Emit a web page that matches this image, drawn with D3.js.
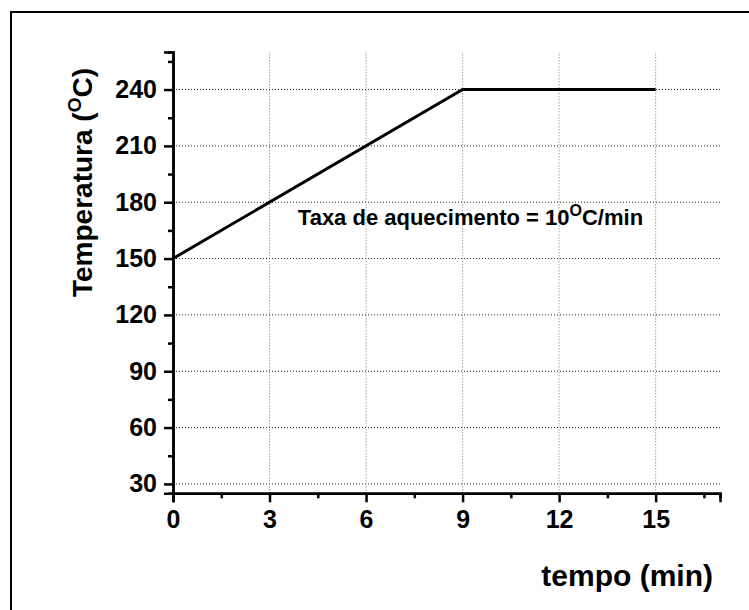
<!DOCTYPE html>
<html>
<head>
<meta charset="utf-8">
<script src="https://cdn.jsdelivr.net/npm/d3@7"></script>
<style>
	body { margin: 0; background: #fff; }
	svg { display: block; font-family: "Liberation Sans", Arial, sans-serif; font-weight: bold; }
</style>
</head>
<body>
<div id="my_chart"></div>
<script>
// dados
var tempo = [0, 9, 15];
var temperatura = [150, 240, 240];
var xTicks = [0, 3, 6, 9, 12, 15];
var xMinor = [1.5, 4.5, 7.5, 10.5, 13.5, 16.5];
var yTicks = [30, 60, 90, 120, 150, 180, 210, 240];
var yMinor = [45, 75, 105, 135, 165, 195, 225, 255];

document.addEventListener( "DOMContentLoaded", function( event ) {

	var width = 749;
	var height = 610;
	var margin = {left: 173, right: 29, top: 52, bottom: 117};

	var svg = d3.select("#my_chart").append("svg")
	.attr("width", width)
	.attr("height", height);

	//moldura (só aparecem esquerda e topo)
	svg.append("rect")
	.attr("x", 11)
	.attr("y", 12)
	.attr("width", 800)
	.attr("height", 700)
	.attr("fill", "none")
	.attr("stroke", "#000")
	.attr("stroke-width", 2);

	var x = d3.scaleLinear()
	.domain([0, 17])
	.range([margin.left, width - margin.right]);

	var y = d3.scaleLinear()
	.domain([25, 260])
	.range([height - margin.bottom + 0.3, margin.top]);

	//grade
	svg.append("g")
	.selectAll("line")
	.data(yTicks)
	.enter().append("line")
	.attr("x1", x(0))
	.attr("x2", x(17))
	.attr("y1", d => y(d))
	.attr("y2", d => y(d))
	.attr("stroke", "#222")
	.attr("stroke-width", 1)
	.attr("stroke-dasharray", "1,2");

	svg.append("g")
	.selectAll("line")
	.data(xTicks.slice(1))
	.enter().append("line")
	.attr("x1", d => x(d))
	.attr("x2", d => x(d))
	.attr("y1", y(25))
	.attr("y2", y(260))
	.attr("stroke", "#777")
	.attr("stroke-width", 1)
	.attr("stroke-dasharray", "1,2");

	//eixos
	var xMinorAxis = d3.axisBottom(x).tickValues(xMinor).tickSize(5).tickFormat("");
	var xAxis = d3.axisBottom(x).tickValues(xTicks).tickSize(9).tickPadding(8);
	var yMinorAxis = d3.axisLeft(y).tickValues(yMinor).tickSize(5).tickFormat("");
	var yAxis = d3.axisLeft(y).tickValues(yTicks).tickSize(9).tickPadding(7);

	[[xMinorAxis, "x"], [xAxis, "x"], [yMinorAxis, "y"], [yAxis, "y"]].forEach(function(a){
		var g = svg.append("g")
		.attr("transform", a[1] == "x" ? "translate(0," + y(25) + ")" : "translate(" + x(0) + ",0)")
		.call(a[0])
		.attr("font-size", 25)
		.attr("font-family", "'Liberation Sans', Arial, sans-serif")
		.attr("font-weight", "bold");
		g.selectAll("line").attr("stroke", "#000").attr("stroke-width", 2.5);
		g.select(".domain").attr("stroke", "#000").attr("stroke-width", 2.5);
		g.selectAll("text").attr("fill", "#000");
	});

	//linha
	var line = d3.line()
	.x(d => x(d[0]))
	.y(d => y(d[1]));

	svg.append("path")
	.datum(tempo.map((t, i) => [t, temperatura[i]]))
	.attr("d", line)
	.attr("fill", "none")
	.attr("stroke", "#000")
	.attr("stroke-width", 3);

	//anotação
	var nota = svg.append("text")
	.attr("x", x(3.88))
	.attr("y", y(167.8))
	.style("font-size", "22px");
	nota.append("tspan").text("Taxa de aquecimento = 10");
	nota.append("tspan").attr("dy", -9).style("font-size", "16px").text("O");
	nota.append("tspan").attr("dy", 9).text("C/min");

	//títulos
	svg.append("text")
	.attr("x", 713)
	.attr("y", 586)
	.attr("text-anchor", "end")
	.style("font-size", "30px")
	.text("tempo (min)");

	var ytitle = svg.append("text")
	.attr("transform", "translate(92,297) rotate(-90)")
	.style("font-size", "28px");
	ytitle.append("tspan").text("Temperatura (");
	ytitle.append("tspan").attr("dy", -11).style("font-size", "19px").text("O");
	ytitle.append("tspan").attr("dy", 11).text("C)");

});
</script>
</body>
</html>
